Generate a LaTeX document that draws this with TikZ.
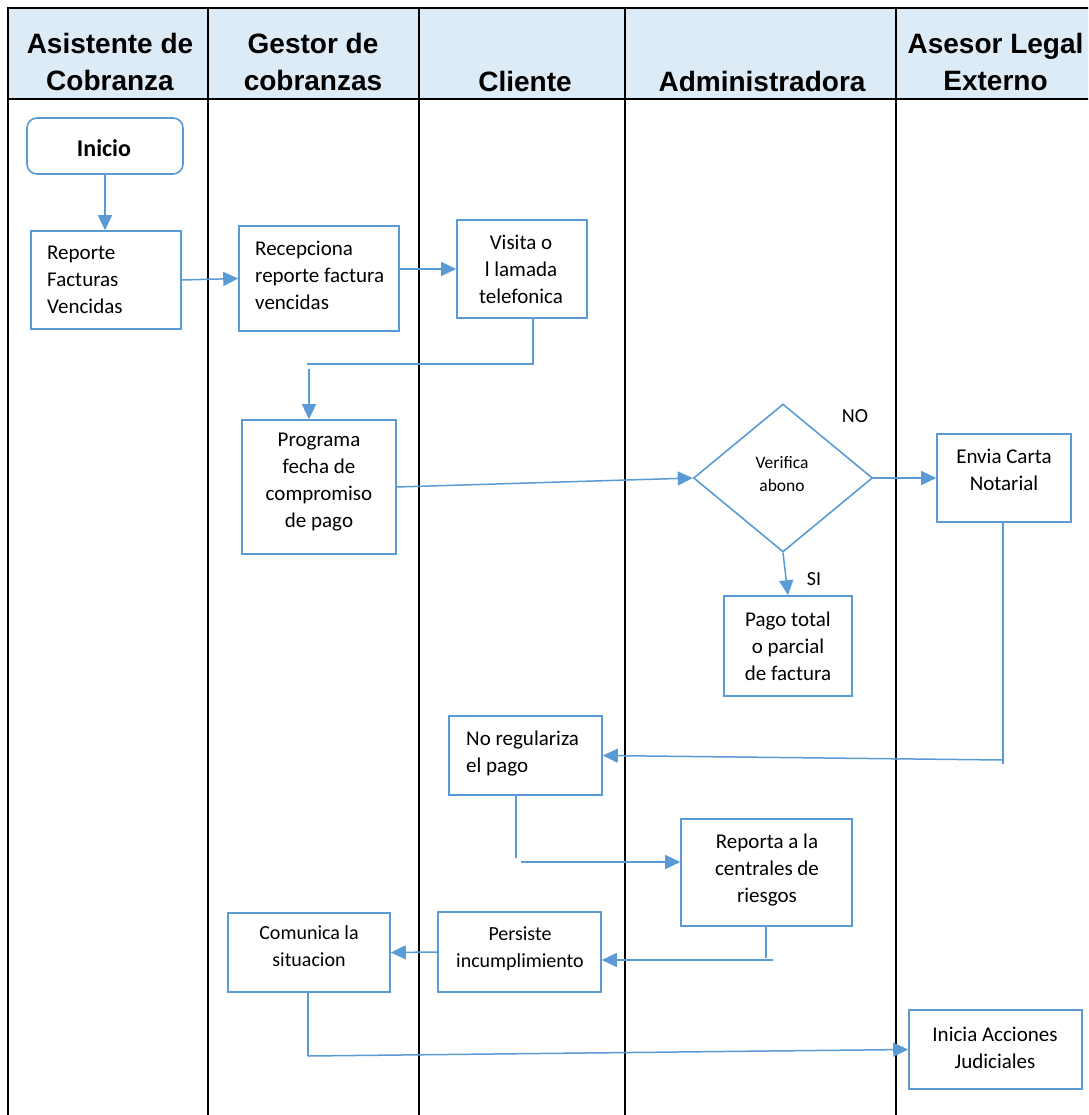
\documentclass[tikz,border=0pt]{standalone}
\usepackage{fontspec}
\setmainfont{Carlito}
\newfontfamily\hdrfont{Liberation Sans}
\usetikzlibrary{arrows.meta,shapes.geometric,calc}
\definecolor{flow}{RGB}{91,155,213}
\definecolor{headfill}{RGB}{221,235,247}

\begin{document}
\begin{tikzpicture}[x=1pt,y=-1pt,
  lane/.style={line width=2pt,black},
  hdr/.style={font=\hdrfont\bfseries\fontsize{28}{37.5}\selectfont,align=center,inner sep=0pt},
  box/.style={draw=flow,line width=1.6pt,fill=white,inner sep=0pt},
  txt/.style={font=\fontsize{21}{27}\selectfont,inner sep=0pt},
  txtsm/.style={font=\fontsize{20}{27.5}\selectfont,inner sep=0pt},
  arr/.style={draw=flow,line width=1.5pt,-{Triangle[length=15pt,width=14pt]}},
  ln/.style={draw=flow,line width=1.5pt},
]
\useasboundingbox (0,0) rectangle (1088,1115);
\clip (0,0) rectangle (1088,1115);
\fill[white] (0,0) rectangle (1088,1115);

% swimlane table
\fill[headfill] (8,8) rectangle (1100,99);
\draw[lane] (1100,8) -- (8,8) -- (8,1120);
\draw[lane] (8,99) -- (1100,99);
\foreach \x in {208,419,625,896} \draw[lane] (\x,8) -- (\x,1120);

\node[hdr] (hA) at (110,62) {Asistente de\\Cobranza};
\node[hdr] (hB) at (313,62) {Gestor de\\cobranzas};
\node[hdr] (hC) at (525,81.5) {Cliente};
\node[hdr] (hD) at (762,81.5) {Administradora};
\node[hdr] (hE) at (995.5,62) {Asesor Legal\\Externo};

% process steps
\node[box,rounded corners=10pt,minimum width=156,minimum height=56] (ini) at (105,146) {};
\node[font=\bfseries\fontsize{24}{28}\selectfont,inner sep=0pt] (iniT) at (104,148) {Inicio};

\node[box,minimum width=150,minimum height=98] (rep) at (106,280) {};
\node[txt,align=left,anchor=west] (repT) at (47,280) {Reporte\\Facturas\\Vencidas};

\node[box,minimum width=160,minimum height=105] (rec) at (319,278.5) {};
\node[txt,align=left,anchor=west] (recT) at (255,275.5) {Recepciona\\reporte factura\\vencidas};

\node[box,minimum width=130,minimum height=98] (vis) at (522,269) {};
\node[txt,align=center] (visT) at (521,269) {Visita o\\l lamada\\telefonica};

\node[box,minimum width=154,minimum height=134] (prog) at (319,487) {};
\node[txt,align=center] (progT) at (319,482) {Programa\\fecha de\\compromiso\\de pago};

\node[box,shape=diamond,minimum width=179,minimum height=148] (dia) at (783,478) {};
\node[font=\fontsize{17.5}{23}\selectfont,inner sep=0pt,align=center] (diaT) at (782,474.5) {Verifica\\abono};

\node[box,minimum width=128,minimum height=100] (pago) at (788,646) {};
\node[txt,align=center] (pagoT) at (788,646) {Pago total\\o parcial\\de factura};

\node[box,minimum width=134,minimum height=88] (env) at (1004,478) {};
\node[txt,align=center] (envT) at (1004,470) {Envia Carta\\Notarial};

\node[box,minimum width=153,minimum height=79] (noreg) at (525.5,755.5) {};
\node[txt,align=left,anchor=west] (noregT) at (466,753.5) {No regulariza\\el pago};

\node[box,minimum width=171,minimum height=107] (rpt) at (766.5,872.5) {};
\node[txt,align=center] (rptT) at (767,870) {Reporta a la\\centrales de\\riesgos};

\node[box,minimum width=163,minimum height=80] (per) at (519.5,952) {};
\node[txtsm,align=center] (perT) at (520,948.5) {Persiste\\incumplimiento};

\node[box,minimum width=162,minimum height=79] (com) at (309,952.5) {};
\node[txtsm,align=center] (comT) at (309,946) {Comunica la\\situacion};

\node[box,minimum width=173,minimum height=79] (jud) at (995.5,1049.5) {};
\node[txt,align=center] (judT) at (995,1048) {Inicia Acciones\\Judiciales};

\node[txtsm] (lNo) at (855,416) {NO};
\node[txtsm] (lSi) at (814,579) {SI};

% connectors
\draw[arr] (ini.south) -- (ini.south |- rep.north);
\draw[arr] (rep.east) -- (rec.west);
\draw[arr] (rec.east |- vis.west) -- (vis.west);

\coordinate (k1) at (533,364);
\coordinate (k2) at (307,364);
\coordinate (k3) at (309,369);
\draw[ln] (vis.south -| k1) -- (k1) -- (k2);
\draw[arr] (k3) -- (k3 |- prog.north);

\draw[arr] (prog.east) -- (dia.west);
\draw[arr] (dia.east) -- (env.west);
\draw[arr] (dia.south) -- (pago.north);

\coordinate (k4) at (1003,764);
\coordinate (k5) at (1003,760);
\draw[ln] (env.south -| k4) -- (k4);
\draw[arr] (k5) -- (noreg.east);

\coordinate (k6) at (516,858);
\coordinate (k7) at (521,862);
\draw[ln] (noreg.south -| k6) -- (k6);
\draw[arr] (k7) -- (k7 -| rpt.west);

\coordinate (k8) at (766,958);
\coordinate (k9) at (773,960);
\draw[ln] (rpt.south -| k8) -- (k8);
\draw[arr] (k9) -- (k9 -| per.east);

\draw[arr] (per.west) -- (com.east);

\coordinate (k10) at (308,1056);
\draw[ln] (com.south -| k10) -- (k10);
\draw[arr] (k10) -- (jud.west);
\end{tikzpicture}
\end{document}
